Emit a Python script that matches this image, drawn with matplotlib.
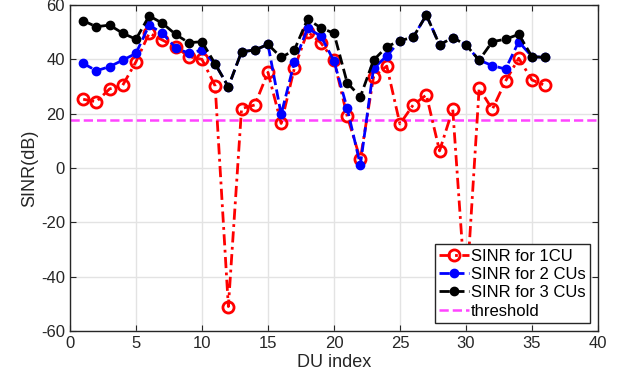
import matplotlib
matplotlib.use('Agg')
import matplotlib.pyplot as plt
import numpy as np

plt.rcParams['font.family'] = ['Liberation Sans', 'DejaVu Sans']
plt.rcParams['axes.unicode_minus'] = False

du = np.arange(1, 37)

sinr_1cu = [25.3, 24.4, 29.1, 30.5, 39.1, 49.6, 47.1, 44.6, 41.0, 40.0,
            30.2, -51.0, 21.9, 23.2, 35.2, 16.4, 36.7, 50.2, 46.1, 39.7,
            19.1, 3.2, 33.6, 37.5, 16.2, 23.2, 26.9, 6.3, 21.6, -48.0,
            29.3, 21.6, 32.0, 40.4, 32.4, 30.4]

sinr_2cu = [38.5, 35.8, 37.3, 39.7, 42.2, 52.6, 49.6, 44.3, 42.2, 43.4,
            38.3, 29.9, 42.8, 43.4, 45.5, 19.7, 38.9, 51.4, 48.6, 39.4,
            22.0, 1.1, 36.7, 41.2, 46.9, 48.1, 56.3, 45.3, 48.0, 45.3,
            39.7, 37.7, 36.4, 46.5, 41.0, 40.7]

sinr_3cu = [54.2, 52.0, 52.6, 49.6, 47.4, 56.0, 53.3, 49.2, 46.1, 46.5,
            38.3, 29.9, 42.8, 43.4, 45.5, 40.7, 43.4, 54.8, 51.6, 49.6,
            31.4, 26.2, 39.7, 44.6, 46.9, 48.1, 56.3, 45.3, 48.0, 45.3,
            39.7, 46.5, 47.4, 49.2, 41.0, 40.7]

threshold = 17.6

fig = plt.figure(figsize=(6.22, 3.84), dpi=100)
ax = fig.add_axes([0.1125, 0.138, 0.8488, 0.849])

ax.plot(du, sinr_1cu, color='red', linestyle=(0, (4, 1.6, 1, 1.6)), linewidth=2,
        marker='o', markersize=8, markerfacecolor='none', markeredgewidth=2,
        label='SINR for 1CU', zorder=3)
ax.plot(du, sinr_2cu, color='blue', linestyle='--', linewidth=2,
        marker='o', markersize=6, label='SINR for 2 CUs', zorder=4)
ax.plot(du, sinr_3cu, color='black', linestyle='--', linewidth=2,
        marker='o', markersize=6, label='SINR for 3 CUs', zorder=5)
ax.plot([0, 40], [threshold, threshold], color='#ff44ff', linestyle='--',
        linewidth=1.8, label='threshold', zorder=2)

ax.set_xlim(0, 40)
ax.set_ylim(-60, 60)
ax.set_xticks(np.arange(0, 41, 5))
ax.set_yticks(np.arange(-60, 61, 20))
ax.grid(True, color='#e3e3e3', linewidth=1)
ax.set_axisbelow(True)
ax.tick_params(direction='in', top=True, right=True, labelsize=12,
               colors='#262626', length=4)
for s in ax.spines.values():
    s.set_color('#262626')
    s.set_linewidth(1)

ax.set_xlabel('DU index', fontsize=13, color='#262626', labelpad=2)
ax.set_ylabel('SINR(dB)', fontsize=13, color='#262626', labelpad=2)

leg = ax.legend(loc='lower right', fontsize=12, frameon=True, fancybox=False,
                framealpha=1, edgecolor='#262626', borderpad=0.25,
                labelspacing=0.2, handlelength=1.8, handletextpad=0.1,
                borderaxespad=0.5)
leg.get_frame().set_linewidth(1)
leg.set_zorder(10)

plt.savefig('out.png', dpi=100)
